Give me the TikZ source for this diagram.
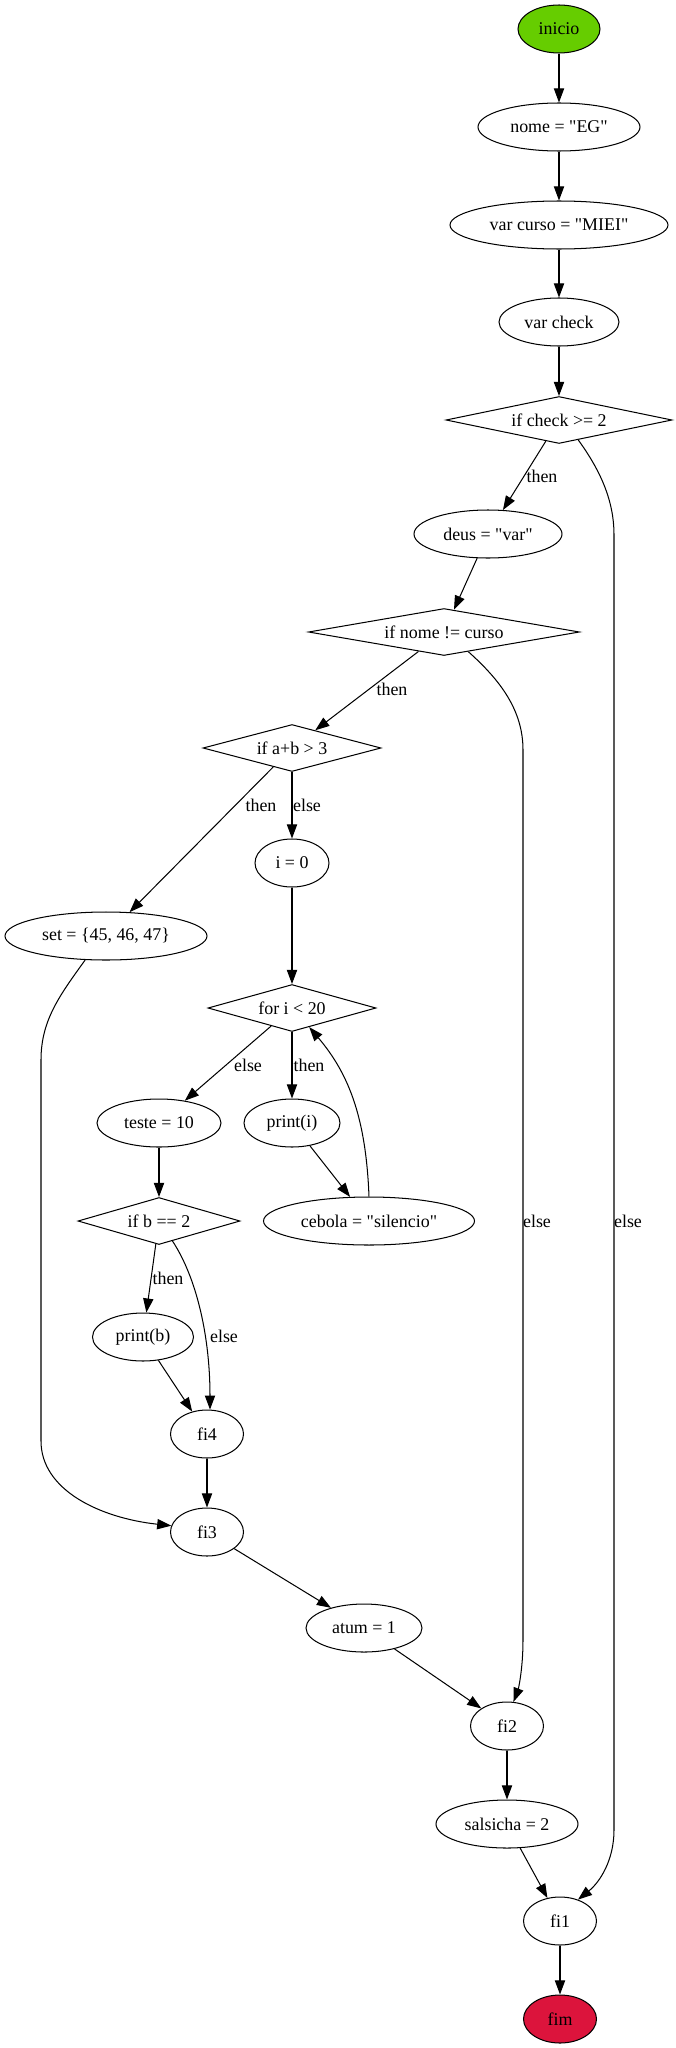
\documentclass[tikz,border=0pt]{standalone}
\usepackage{fontspec}
\setmainfont{Liberation Serif}[Ligatures=TeXOff]
\usetikzlibrary{shapes.geometric,arrows.meta}
\definecolor{startgreen}{HTML}{66CD00}
\definecolor{endred}{HTML}{DC143C}
\tikzset{
  ell/.style={ellipse, draw, line width=0.8pt, inner sep=0pt, minimum height=37.5pt, minimum width={#1*0.78125pt}, font=\fontsize{14pt}{16pt}\selectfont},
  dia/.style={diamond, draw, line width=0.8pt, inner sep=0pt, minimum height=36.7pt, minimum width={#1*0.78125pt}, shape aspect=5, font=\fontsize{14pt}{16pt}\selectfont},
  lbl/.style={inner sep=0pt, font=\fontsize{14pt}{16pt}\selectfont},
  edge/.style={line width=0.8pt, -{Triangle[length=11pt,width=8pt]}}
}
\begin{document}
\begin{tikzpicture}[x=0.78125pt, y=-0.78125pt]
\useasboundingbox (0,0) rectangle (676,2048);
% nodes
\node[ell=82, fill=startgreen] (inicio) at (559,29) {inicio};
\node[ell=162] (nome) at (559,127) {nome = "EG"};
\node[ell=218] (curso) at (559,225) {var curso = "MIEI"};
\node[ell=120] (check) at (559,322) {var check};
\node[dia=226] (ifcheck) at (559,420) {if check >= 2};
\node[ell=148] (deus) at (488,534) {deus = "var"};
\node[dia=271] (ifnome) at (444,632) {if nome != curso};
\node[dia=178] (ifab) at (292,748) {if a+b > 3};
\node[ell=74] (izero) at (292,863) {i = 0};
\node[ell=202] (set) at (106,936) {set = \{45, 46, 47\}};
\node[dia=168] (for) at (292,1008) {for i < 20};
\node[ell=124] (teste) at (159,1123) {teste = 10};
\node[ell=96] (printi) at (292,1123) {print(i)};
\node[dia=162] (ifb) at (159,1221) {if b == 2};
\node[ell=211] (cebola) at (369,1221) {cebola = "silencio"};
\node[ell=101] (printb) at (143,1337) {print(b)};
\node[ell=73] (fiquatro) at (207,1434) {fi4};
\node[ell=73] (fitres) at (207,1532) {fi3};
\node[ell=116] (atum) at (364,1628) {atum = 1};
\node[ell=73] (fidois) at (507,1726) {fi2};
\node[ell=142] (salsicha) at (507,1824) {salsicha = 2};
\node[ell=73] (fium) at (560,1921) {fi1};
\node[ell=73, fill=endred] (fim) at (560,2019) {fim};
% labels
\node[lbl] (l1) at (542,476) {then};
\node[lbl] (l2) at (392,689) {then};
\node[lbl] (l3) at (261,805) {then};
\node[lbl] (l4) at (307,805) {else};
\node[lbl] (l5) at (248,1065) {else};
\node[lbl] (l6) at (309,1065) {then};
\node[lbl] (l7) at (537,1221) {else};
\node[lbl] (l8) at (628,1221) {else};
\node[lbl] (l9) at (168,1278) {then};
\node[lbl] (l10) at (224,1336) {else};
% edges
\draw[edge] (inicio) -- (nome);
\draw[edge] (nome) -- (curso);
\draw[edge] (curso) -- (check);
\draw[edge] (check) -- (ifcheck);
\draw[edge] (ifcheck) -- (deus);
\draw[edge] (deus) -- (ifnome);
\draw[edge] (ifnome) -- (ifab);
\draw[edge] (ifab) -- (set);
\draw[edge] (ifab) -- (izero);
\draw[edge] (izero) -- (for);
\draw[edge] (for) -- (teste);
\draw[edge] (for) -- (printi);
\draw[edge] (printi) -- (cebola);
\draw[edge] (cebola.north) .. controls (366,1120) and (350,1075) .. (for.-48);
\draw[edge] (teste) -- (ifb);
\draw[edge] (ifb) -- (printb);
\draw[edge] (ifb.-56) .. controls (198,1280) and (210,1340) .. (fiquatro.83);
\draw[edge] (printb) -- (fiquatro);
\draw[edge] (fiquatro) -- (fitres);
\draw[edge] (set.-131) .. controls (60,995) and (41,1020) .. (41,1060) -- (41,1441) .. controls (41,1490) and (100,1518) .. (fitres.170);
\draw[edge] (fitres) -- (atum);
\draw[edge] (atum) -- (fidois);
\draw[edge] (ifnome.-39) .. controls (500,680) and (523,710) .. (523,750) -- (523,1640) .. controls (523,1670) and (518,1690) .. (fidois.75);
\draw[edge] (fidois) -- (salsicha);
\draw[edge] (salsicha) -- (fium);
\draw[edge] (ifcheck.-46) .. controls (600,470) and (614,500) .. (614,535) -- (614,1830) .. controls (614,1860) and (600,1882) .. (fium.50);
\draw[edge] (fium) -- (fim);
\end{tikzpicture}
\end{document}
